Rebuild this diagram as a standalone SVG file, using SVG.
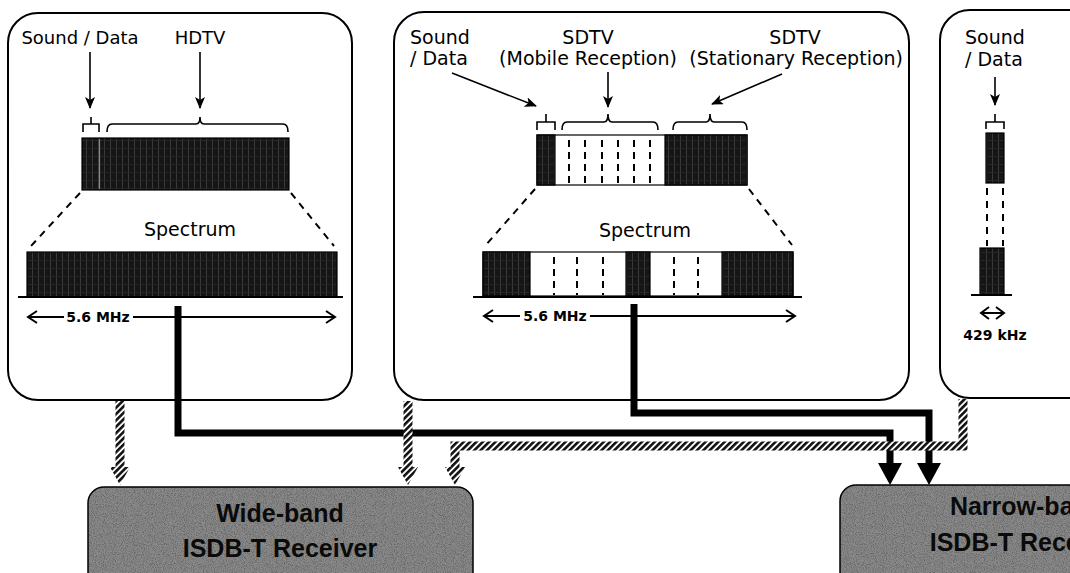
<svg xmlns="http://www.w3.org/2000/svg" width="1070" height="573" viewBox="0 0 1070 573">
<style>
.panel{fill:#fff;stroke:#000;stroke-width:2}
.lbl{font-family:"DejaVu Sans",sans-serif;font-size:19px;fill:#000}
.sm{font-family:"DejaVu Sans",sans-serif;font-size:14px;font-weight:bold;fill:#000}
.arr{stroke:#000;stroke-width:1.6;fill:none}
.brace{stroke:#000;stroke-width:1.6;fill:none}
.dash{stroke:#000;stroke-width:2;stroke-dasharray:7 6;fill:none}
.vdash{stroke:#000;stroke-width:2;stroke-dasharray:7 5}
.dark{fill:url(#dk);stroke:#000;stroke-width:1.2}
.white{fill:#fff;stroke:#000;stroke-width:1.2}
.base{stroke:#000;stroke-width:2}
.chev{stroke:#000;stroke-width:2;fill:none}
.thick{stroke:#000;stroke-width:7;fill:none;stroke-linejoin:miter}
.hatch{stroke:url(#hp);stroke-width:9;fill:none;stroke-linejoin:miter}
.hhead{fill:url(#hp)}
.rcv{fill:#8a8a8a;stroke:#000;stroke-width:1.5}
.rt{font-family:"Liberation Sans",Arial,sans-serif;font-weight:bold;font-size:25px;fill:#0a0a0a;text-anchor:middle}
</style>
<defs>
<pattern id="dk" width="6" height="8" patternUnits="userSpaceOnUse">
<rect width="6" height="8" fill="#151515"/>
<rect x="2" y="0" width="1" height="8" fill="#3a3a3a"/>
<rect x="0" y="4" width="6" height="1" fill="#262626"/>
</pattern>
<pattern id="hp" width="4.5" height="4.5" patternUnits="userSpaceOnUse" patternTransform="rotate(45)">
<rect width="4.5" height="4.5" fill="#fff"/>
<rect width="2.6" height="4.5" fill="#111"/>
</pattern>
<marker id="ah" viewBox="0 0 12 10" refX="11" refY="5" markerWidth="12" markerHeight="10" markerUnits="userSpaceOnUse" orient="auto">
<path d="M0,0 L12,5 L0,10 L3,5 z" fill="#000"/>
</marker>
<filter id="nz" x="0" y="0" width="1" height="1">
<feTurbulence type="fractalNoise" baseFrequency="1.1" numOctaves="1" seed="4"/>
<feColorMatrix type="matrix" values="0 0 0 0 0  0 0 0 0 0  0 0 0 0 0  2.2 0 0 0 -0.9"/>
<feComposite operator="in" in2="SourceGraphic"/>
</filter>
</defs>
<rect width="1070" height="573" fill="#fff"/>

<!-- Left panel: HDTV -->
<g id="panel-hdtv">
<rect class="panel" x="8" y="13" width="344" height="387" rx="30"/>
<text class="lbl" x="80" y="44" text-anchor="middle" style="font-size:18px">Sound / Data</text>
<text class="lbl" x="200" y="44" text-anchor="middle" style="font-size:18px">HDTV</text>
<line class="arr" x1="90" y1="52" x2="90" y2="108" marker-end="url(#ah)"/>
<line class="arr" x1="200" y1="52" x2="200" y2="108" marker-end="url(#ah)"/>
<path class="brace" d="M83,132 V124 H99 V132 M91,124 V117"/>
<path class="brace" d="M107,132 Q107,124 112,124 H196 Q200,124 200,117 Q200,124 204,124 H283 Q288,124 288,132"/>
<rect class="dark" x="82" y="138" width="207" height="52"/>
<line x1="99.5" y1="139" x2="99.5" y2="189" stroke="#8a8a8a" stroke-width="1.2"/>
<line class="dash" x1="80" y1="193" x2="31" y2="246"/>
<line class="dash" x1="291" y1="193" x2="334" y2="246"/>
<text class="lbl" x="190" y="236" text-anchor="middle">Spectrum</text>
<rect class="dark" x="27" y="252" width="310" height="45"/>
<line class="base" x1="18" y1="297" x2="343" y2="297"/>
<line class="base" x1="28" y1="317" x2="64" y2="317"/>
<line class="base" x1="133" y1="317" x2="335" y2="317"/>
<path class="chev" d="M37,311 L28,317 L37,323 M326,311 L335,317 L326,323"/>
<text class="sm" x="98" y="322" text-anchor="middle">5.6 MHz</text>
</g>

<!-- Middle panel: SDTV -->
<g id="panel-sdtv">
<rect class="panel" x="394" y="12" width="515" height="388" rx="30"/>
<text class="lbl" x="410" y="44">Sound</text>
<text class="lbl" x="410" y="65">/ Data</text>
<text class="lbl" x="588" y="44" text-anchor="middle">SDTV</text>
<text class="lbl" x="588" y="65" text-anchor="middle">(Mobile Reception)</text>
<text class="lbl" x="795" y="44" text-anchor="middle">SDTV</text>
<text class="lbl" x="903" y="65" text-anchor="end">(Stationary Reception)</text>
<line class="arr" x1="452" y1="73" x2="536" y2="106" marker-end="url(#ah)"/>
<line class="arr" x1="608" y1="72" x2="608" y2="107" marker-end="url(#ah)"/>
<line class="arr" x1="782" y1="74" x2="712" y2="104" marker-end="url(#ah)"/>
<path class="brace" d="M537,130 V122 H555 V130 M546,122 V114"/>
<path class="brace" d="M562,130 Q562,122 567,122 H604 Q608,122 608,114 Q608,122 612,122 H653 Q658,122 658,130"/>
<path class="brace" d="M673,130 Q673,122 678,122 H706 Q710,122 710,114 Q710,122 714,122 H742 Q747,122 747,130"/>
<rect class="white" x="537" y="135" width="210" height="50"/>
<rect class="dark" x="537" y="135" width="18" height="50"/>
<rect class="dark" x="665" y="135" width="82" height="50"/>
<g class="vdash">
<line x1="569" y1="140" x2="569" y2="184"/>
<line x1="585" y1="140" x2="585" y2="184"/>
<line x1="602" y1="140" x2="602" y2="184"/>
<line x1="618" y1="140" x2="618" y2="184"/>
<line x1="634" y1="140" x2="634" y2="184"/>
<line x1="650" y1="140" x2="650" y2="184"/>
</g>
<line class="dash" x1="535" y1="189" x2="485" y2="246"/>
<line class="dash" x1="749" y1="189" x2="792" y2="245"/>
<text class="lbl" x="645" y="237" text-anchor="middle">Spectrum</text>
<rect class="white" x="483" y="252" width="310" height="44"/>
<rect class="dark" x="483" y="252" width="47" height="44"/>
<rect class="dark" x="626" y="252" width="24" height="44"/>
<rect class="dark" x="722" y="252" width="71" height="44"/>
<g class="vdash">
<line x1="554" y1="257" x2="554" y2="295"/>
<line x1="577" y1="257" x2="577" y2="295"/>
<line x1="603" y1="257" x2="603" y2="295"/>
<line x1="674" y1="257" x2="674" y2="295"/>
<line x1="698" y1="257" x2="698" y2="295"/>
</g>
<line class="base" x1="473" y1="297" x2="802" y2="297"/>
<line class="base" x1="484" y1="316" x2="520" y2="316"/>
<line class="base" x1="590" y1="316" x2="795" y2="316"/>
<path class="chev" d="M493,310 L484,316 L493,322 M786,310 L795,316 L786,322"/>
<text class="sm" x="555" y="321" text-anchor="middle">5.6 MHz</text>
</g>

<!-- Right panel: narrow-band sound/data -->
<g id="panel-sound">
<rect class="panel" x="940" y="10" width="200" height="388" rx="30"/>
<text class="lbl" x="965" y="44">Sound</text>
<text class="lbl" x="965" y="66">/ Data</text>
<line class="arr" x1="995" y1="77" x2="995" y2="105" marker-end="url(#ah)"/>
<path class="brace" d="M986,129 V122 H1004 V129 M995,122 V114"/>
<rect class="dark" x="986" y="133" width="18" height="50"/>
<line class="dash" x1="987" y1="188" x2="987" y2="246"/>
<line class="dash" x1="1003" y1="188" x2="1003" y2="246"/>
<rect class="dark" x="980" y="248" width="24" height="47"/>
<line class="base" x1="971" y1="295" x2="1012" y2="295"/>
<line class="base" x1="981" y1="313" x2="1004" y2="313"/>
<path class="chev" d="M989,307 L981,313 L989,319 M996,307 L1004,313 L996,319"/>
<text class="sm" x="995" y="340" text-anchor="middle">429 kHz</text>
</g>

<!-- Connectors -->
<g id="connectors">
<path class="thick" d="M178,306 V433 H890 V466"/>
<polygon points="878,463 902,463 890,485" fill="#000"/>
<path class="thick" d="M634,304 V413 H929 V466"/>
<polygon points="917,463 941,463 929,485" fill="#000"/>
<path class="hatch" d="M120,401 V468"/>
<polygon class="hhead" points="110,467 130,467 120,485"/>
<path class="hatch" d="M408,401 V468"/>
<polygon class="hhead" points="398,467 418,467 408,485"/>
<path class="hatch" d="M963,399 V446 H455 V468"/>
<polygon class="hhead" points="445,467 465,467 455,485"/>
</g>

<!-- Receivers -->
<g id="rx-wide">
<rect class="rcv" x="88" y="487" width="385" height="110" rx="16"/>
<rect x="88" y="487" width="385" height="110" rx="16" fill="#000" filter="url(#nz)" opacity="0.35"/>
<text class="rt" x="280" y="522">Wide-band</text>
<text class="rt" x="280" y="557">ISDB-T Receiver</text>
</g>
<g id="rx-narrow">
<rect class="rcv" x="840" y="485" width="385" height="110" rx="16"/>
<rect x="840" y="485" width="385" height="110" rx="16" fill="#000" filter="url(#nz)" opacity="0.35"/>
<text class="rt" x="1027" y="515">Narrow-band</text>
<text class="rt" x="1027" y="551">ISDB-T Receiver</text>
</g>
</svg>
